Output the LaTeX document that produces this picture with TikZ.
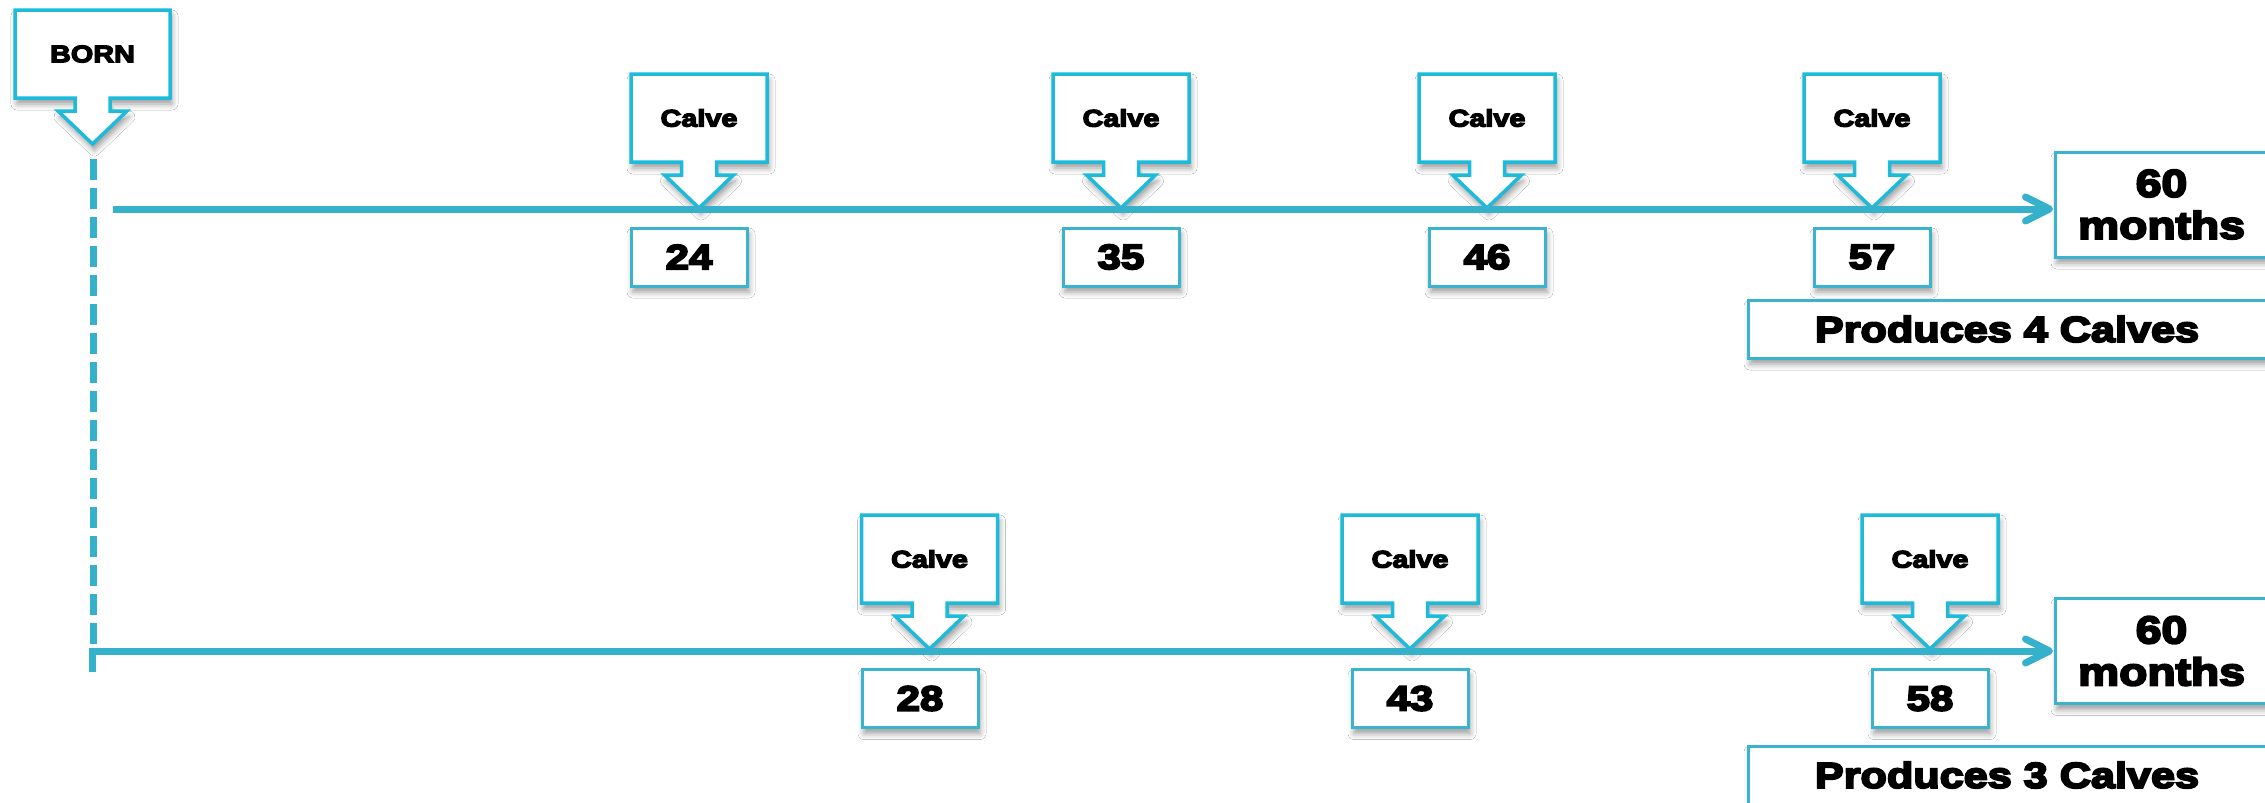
\documentclass[tikz,border=0pt]{standalone}
\usepackage{fontspec}
\newfontfamily\blk{Liberation Sans Bold}[FakeStretch=1.2,FakeBold=5.5]
\usetikzlibrary{arrows.meta,shadows.blur}
\definecolor{callc}{HTML}{1DBAD9}
\definecolor{boxc}{HTML}{3AB3CF}
\definecolor{linec}{HTML}{35B1CC}
\tikzset{
  softshadow/.style={blur shadow={shadow xshift=2pt, shadow yshift=-6pt, shadow blur radius=6pt, shadow opacity=40}},
  shapeline/.style={draw=callc, line width=3.5pt, fill=white, line join=miter, softshadow},
  calltext/.style={font=\blk\fontsize{24}{28}\selectfont, inner sep=0pt},
  numbox/.style={draw=boxc, line width=3pt, fill=white, minimum width=116pt, minimum height=58pt,
    inner sep=0pt, font=\blk\fontsize{35}{40}\selectfont, softshadow},
  endbox/.style={draw=boxc, line width=3pt, fill=white, minimum width=213pt, minimum height=105pt,
    inner sep=0pt, align=center, font=\blk\fontsize{38.5}{42}\selectfont, softshadow},
  sumbox/.style={draw=boxc, line width=3pt, fill=white, minimum width=522pt, minimum height=58pt,
    inner sep=0pt, softshadow},
  sumtext/.style={font=\blk\fontsize{36}{40}\selectfont, inner sep=0pt},
  timeline/.style={draw=linec, line width=7pt, line join=miter},
  tipend/.style={-{Straight Barb[length=24pt,width=24pt,round]}},
  dashline/.style={draw=linec, line width=7pt, dash pattern=on 21pt off 8pt}
}
\newcommand\mkcallout[5]{%
  \path[shapeline] (#2-#4,#3) -- (#2+#4,#3) -- (#2+#4,#3+88) -- (#2+17.5,#3+88) -- (#2+17.5,#3+101)
    -- (#2+34.5,#3+101) -- (#2,#3+134) -- (#2-34.5,#3+101) -- (#2-17.5,#3+101) -- (#2-17.5,#3+88)
    -- (#2-#4,#3+88) -- cycle;
  \node[calltext] (#1) at (#2,#3+44) {#5};
}
\begin{document}
\begin{tikzpicture}[x=1pt,y=-1pt]
\fill[white] (0,0) rectangle (2265,803);
\useasboundingbox (0,0) rectangle (2265,803);

% BORN
\mkcallout{born}{92.5}{10}{77.5}{BORN}
\coordinate (d0) at (93,159);
\coordinate (d1) at (93,645);
\draw[dashline] (d0) -- (d1);

% top row callouts
\mkcallout{c1}{699}{74}{68}{Calve}
\mkcallout{c2}{1121}{74}{68}{Calve}
\mkcallout{c3}{1487}{74}{68}{Calve}
\mkcallout{c4}{1872}{74}{68}{Calve}
% bottom row callouts
\mkcallout{c5}{929.5}{515}{68}{Calve}
\mkcallout{c6}{1410}{515}{68}{Calve}
\mkcallout{c7}{1930}{515}{68}{Calve}

% end boxes
\node[endbox] (m1) at (2161.5,204.5) {60\\months};
\node[endbox] (m2) at (2161.5,651) {60\\months};
\node[sumbox] (s1) at (2009,329) {};
\node[sumtext] (s1t) at (2007,329) {Produces 4 Calves};
\node[sumbox] (s2) at (2009,775) {};
\node[sumtext] (s2t) at (2007,775) {Produces 3 Calves};

% timelines
\coordinate (t0) at (113,209);
\coordinate (t1) at (2053,209);
\draw[timeline,tipend] (t0) -- (t1);
\coordinate (b0) at (92,672);
\coordinate (b1) at (92,651);
\coordinate (b2) at (2053,651);
\draw[timeline,tipend] (b0) -- (b1) -- (b2);

% number boxes
\node[numbox] (n24) at (689,257) {24};
\node[numbox] (n35) at (1121,257) {35};
\node[numbox] (n46) at (1487,257) {46};
\node[numbox] (n57) at (1872,257) {57};
\node[numbox] (n28) at (920,698.5) {28};
\node[numbox] (n43) at (1410,698.5) {43};
\node[numbox] (n58) at (1930,698.5) {58};
\end{tikzpicture}
\end{document}
